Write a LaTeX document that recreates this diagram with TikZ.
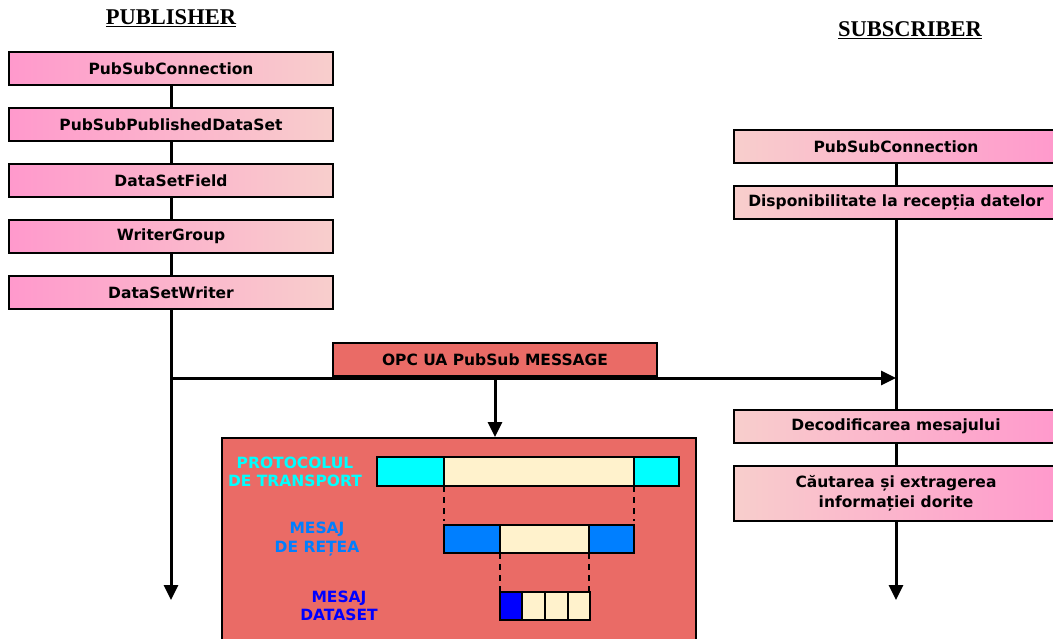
\documentclass[tikz,border=0pt]{standalone}
\usepackage{fontspec}
\setmainfont{DejaVu Sans}
\newfontfamily\titlefont{Liberation Serif}
\usetikzlibrary{arrows.meta}
\definecolor{pinkA}{HTML}{FF99CC}
\definecolor{pinkB}{HTML}{F8CECC}
\definecolor{salmon}{HTML}{EA6B66}
\definecolor{beige}{HTML}{FFF2CC}
\definecolor{cyanC}{HTML}{00FFFF}
\definecolor{netblue}{HTML}{007FFF}
\definecolor{dsblue}{HTML}{0000FF}
\begin{document}
\begin{tikzpicture}[x=1pt,y=-1pt,
  font=\bfseries\fontsize{15.5}{18}\selectfont,
  pubbox/.style={draw=black, line width=2pt, left color=pinkA, right color=pinkB,
    minimum width=324pt, minimum height=33pt, inner sep=0pt},
  subbox/.style={draw=black, line width=2pt, left color=pinkB, right color=pinkA,
    minimum width=324pt, minimum height=33pt, inner sep=0pt, align=center},
  msgbox/.style={draw=black, line width=2pt, fill=salmon,
    minimum width=324pt, minimum height=33pt, inner sep=0pt},
  link/.style={line width=3pt, draw=black},
  flow/.style={link, -{Triangle[length=15pt,width=14pt]}},
  cell/.style={draw=black, line width=2pt},
  guide/.style={draw=black, line width=2pt, dash pattern=on 6pt off 5pt},
  title/.style={font=\titlefont\bfseries\fontsize{22.5}{26}\selectfont},
  lbl/.style={align=center, font=\bfseries\fontsize{15.5}{18.5}\selectfont}]
\useasboundingbox (0,0) rectangle (1053,638);
\clip (0,0) rectangle (1053,638);

% column titles
\node[title] (tpub) at (171,18) {\underline{PUBLISHER}};
\node[title] (tsub) at (910,30) {\underline{SUBSCRIBER}};

% publisher chain
\node[pubbox] (p1) at (171,68.5) {PubSubConnection};
\node[pubbox] (p2) at (171,124.5) {PubSubPublishedDataSet};
\node[pubbox] (p3) at (171,180.5) {DataSetField};
\node[pubbox] (p4) at (171,236.5) {WriterGroup};
\node[pubbox] (p5) at (171,292.5) {DataSetWriter};
\coordinate (pend) at (171,600);
\draw[link] (p1) -- (p2);
\draw[link] (p2) -- (p3);
\draw[link] (p3) -- (p4);
\draw[link] (p4) -- (p5);
\draw[flow] (p5.south) -- (pend);

% subscriber chain
\node[subbox] (s1) at (896,146.5) {PubSubConnection};
\node[subbox] (s2) at (896,202.5) {Disponibilitate la recepția datelor};
\node[subbox] (s3) at (896,426.5) {Decodificarea mesajului};
\node[subbox, minimum height=55pt, font=\bfseries\fontsize{15.5}{19.5}\selectfont] (s4) at (896,493.5) {Căutarea și extragerea\\informației dorite};
\coordinate (send) at (896,600);
\draw[link] (s1) -- (s2);
\draw[link] (s2) -- (s3);
\draw[link] (s3) -- (s4);
\draw[flow] (s4.south) -- (send);

% message sent from publisher to subscriber
\node[msgbox] (msg) at (495,359.5) {OPC UA PubSub MESSAGE};
\coordinate (pj) at (171,378);
\coordinate (sj) at (896,378);
\draw[flow] (pj) -- (sj);

% message structure panel
\node[draw=black, line width=2pt, fill=salmon, minimum width=474pt, minimum height=215pt,
  inner sep=0pt, anchor=north west] (panel) at (221,437) {};
\draw[flow] (msg.south) -- (msg.south |- panel.north);

% transport layer frame
\draw[cell, fill=cyanC] (377,457) rectangle (444,486);
\draw[cell, fill=beige] (444,457) rectangle (634,486);
\draw[cell, fill=cyanC] (634,457) rectangle (679,486);
\node[lbl, text=cyanC] (ltr) at (295,472) {PROTOCOLUL\\DE TRANSPORT};

% network message
\draw[cell, fill=netblue] (444,525) rectangle (500,553);
\draw[cell, fill=beige] (500,525) rectangle (589,553);
\draw[cell, fill=netblue] (589,525) rectangle (634,553);
\node[lbl, text=netblue] (lnet) at (317,539) {MESAJ\\DE REȚEA};

% dataset message
\draw[cell, fill=dsblue] (500,592) rectangle (522,620);
\draw[cell, fill=beige] (522,592) rectangle (545,620);
\draw[cell, fill=beige] (545,592) rectangle (568,620);
\draw[cell, fill=beige] (568,592) rectangle (590,620);
\node[lbl, text=dsblue] (lds) at (339,606) {MESAJ\\DATASET};

% nesting guides
\draw[guide] (444,486) -- (444,521);
\draw[guide] (634,486) -- (634,521);
\draw[guide] (500,553) -- (500,591);
\draw[guide] (589,553) -- (589,591);
\end{tikzpicture}
\end{document}
